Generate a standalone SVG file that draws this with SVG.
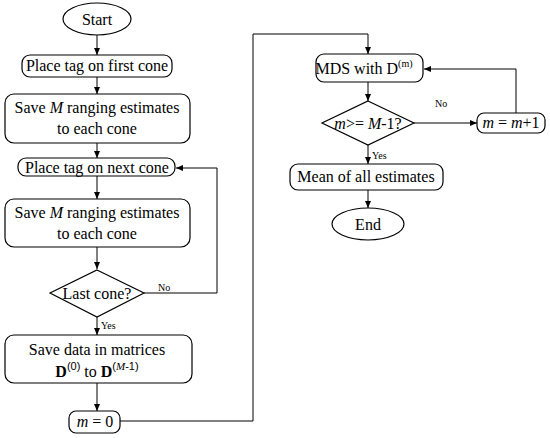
<svg xmlns="http://www.w3.org/2000/svg" width="550" height="438" viewBox="0 0 550 438">
<defs>
<marker id="ah" markerWidth="8" markerHeight="6" refX="7" refY="3" orient="auto" markerUnits="userSpaceOnUse">
<path d="M0,0 L7,3 L0,6 Z" fill="#000"/>
</marker>
<style>
.n{fill:#fff;stroke:#000;stroke-width:1.2}
.t{font-family:"Liberation Serif","Times New Roman",serif;font-size:16px;fill:#000;text-anchor:middle}
.s{font-family:"Liberation Serif","Times New Roman",serif;font-size:10px;fill:#000}
.c{fill:none;stroke:#000;stroke-width:1}
.sup{font-family:"Liberation Sans",Arial,sans-serif;font-size:11px}
</style>
</defs>
<rect width="550" height="438" fill="#fff"/>
<g id="connectors">
<path class="c" d="M97,35 V55" marker-end="url(#ah)"/>
<path class="c" d="M97,77 V94" marker-end="url(#ah)"/>
<path class="c" d="M97,143 V158" marker-end="url(#ah)"/>
<path class="c" d="M97,176 V199" marker-end="url(#ah)"/>
<path class="c" d="M97,247 V269" marker-end="url(#ah)"/>
<path class="c" d="M144,293 H217 V168 H176" marker-end="url(#ah)"/>
<path class="c" d="M97,317 V335" marker-end="url(#ah)"/>
<path class="c" d="M97,383 V411" marker-end="url(#ah)"/>
<path class="c" d="M120,421 H253 V34 H368 V54" marker-end="url(#ah)"/>
<path class="c" d="M368,82 V101" marker-end="url(#ah)"/>
<path class="c" d="M414,123 H477" marker-end="url(#ah)"/>
<path class="c" d="M516,113 V69 H424" marker-end="url(#ah)"/>
<path class="c" d="M368,145 V164" marker-end="url(#ah)"/>
<path class="c" d="M368,190 V208" marker-end="url(#ah)"/>
<text class="s" x="158" y="291">No</text>
<text class="s" x="101" y="329">Yes</text>
<text class="s" x="435" y="107">No</text>
<text class="s" x="372" y="159">Yes</text>
</g>
<g id="start">
<ellipse class="n" cx="97" cy="19" rx="34" ry="16"/>
<text class="t" x="97" y="25">Start</text>
</g>
<g id="place-first">
<rect class="n" x="22" y="55" width="150" height="22" rx="8"/>
<text class="t" x="97" y="71">Place tag on first cone</text>
</g>
<g id="save1">
<rect class="n" x="5" y="94" width="185" height="49" rx="9"/>
<text class="t" x="97" y="113">Save <tspan font-style="italic">M</tspan> ranging estimates</text>
<text class="t" x="97" y="134">to each cone</text>
</g>
<g id="place-next">
<rect class="n" x="18" y="158" width="157" height="18" rx="8"/>
<text class="t" x="97" y="173">Place tag on next cone</text>
</g>
<g id="save2">
<rect class="n" x="5" y="199" width="185" height="48" rx="9"/>
<text class="t" x="97" y="218">Save <tspan font-style="italic">M</tspan> ranging estimates</text>
<text class="t" x="97" y="239">to each cone</text>
</g>
<g id="last-cone">
<polygon class="n" points="97,270 144,293 97,317 50,293"/>
<text class="t" x="97" y="299">Last cone?</text>
</g>
<g id="save-data">
<rect class="n" x="5" y="335" width="187" height="48" rx="9"/>
<text class="t" x="97" y="355">Save data in matrices</text>
<text class="t" x="97" y="377"><tspan font-weight="bold">D</tspan><tspan class="sup" dy="-7">(0)</tspan><tspan dy="7"> to </tspan><tspan font-weight="bold">D</tspan><tspan class="sup" dy="-7">(<tspan font-style="italic" font-family="Liberation Serif,serif">M</tspan>-1)</tspan></text>
</g>
<g id="m0">
<rect class="n" x="69" y="411" width="51" height="22" rx="7"/>
<text class="t" x="95" y="427"><tspan font-style="italic">m</tspan> = 0</text>
</g>
<g id="mds">
<rect class="n" x="316" y="54" width="107" height="28" rx="8"/>
<text class="t" x="364" y="74">MDS with D<tspan font-size="10px" dy="-7">(m)</tspan></text>
</g>
<g id="check">
<polygon class="n" points="368,101 414,123 368,145 322,123"/>
<text class="t" x="368" y="129"><tspan font-style="italic">m</tspan>&gt;= <tspan font-style="italic">M</tspan>-1?</text>
</g>
<g id="inc">
<rect class="n" x="477" y="113" width="68" height="20" rx="7"/>
<text class="t" x="511" y="128"><tspan font-style="italic">m</tspan> = <tspan font-style="italic">m</tspan>+1</text>
</g>
<g id="mean">
<rect class="n" x="290" y="164" width="153" height="26" rx="8"/>
<text class="t" x="366" y="182">Mean of all estimates</text>
</g>
<g id="end">
<ellipse class="n" cx="368" cy="224" rx="36" ry="16"/>
<text class="t" x="368" y="230">End</text>
</g>
</svg>
